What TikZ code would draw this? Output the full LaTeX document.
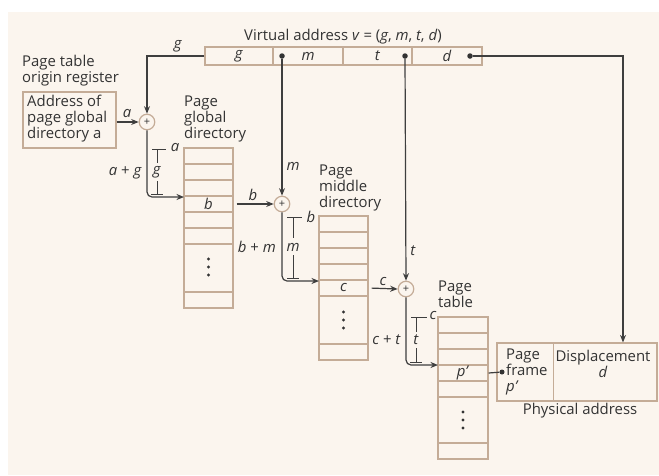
\documentclass[tikz,border=0pt]{standalone}
\usepackage{fontspec}
\setmainfont{Open Sans}
\usetikzlibrary{arrows.meta}
\definecolor{bgc}{HTML}{FBF5EE}
\definecolor{tanc}{HTML}{C4AC97}
\definecolor{inkc}{HTML}{333333}
\definecolor{wirec}{HTML}{3E3E3E}
\tikzset{
  txt/.style={inner sep=0pt, text=inkc, font=\fontsize{14.9}{16}\selectfont},
  lbl/.style={txt, align=left, anchor=west},
  cellbox/.style={draw=tanc, line width=1.2pt, inner sep=0pt, text=inkc, font=\fontsize{14.9}{16}\selectfont},
  tline/.style={draw=tanc, line width=1.2pt},
  wire/.style={draw=wirec, line width=1.2pt},
  arr/.style={wire, -{Stealth[length=7.5pt,width=6pt]}},
  brk/.style={draw=wirec, line width=0.9pt},
  plusc/.style={circle, draw=tanc, line width=1.2pt, fill=bgc, minimum size=15.5pt, inner sep=0pt, text=inkc, font=\fontsize{11}{11}\selectfont},
  dotn/.style={circle, fill=inkc, minimum size=5.5pt, inner sep=0pt},
  vdot/.style={circle, fill=inkc, minimum size=3.4pt, inner sep=0pt},
}
\begin{document}
\begin{tikzpicture}[x=1pt,y=-1pt]
\useasboundingbox (0,0) rectangle (659,475);
\fill[bgc] (8,12) rectangle (659,475);

% ---- virtual address ----
\node[txt] (vtitle) at (343,37) {Virtual address \textit{v} = (\textit{g}, \textit{m}, \textit{t}, \textit{d})};
\node[cellbox, minimum width=68pt, minimum height=18pt] (vg) at (239,56) {\textit{g}};
\node[cellbox, minimum width=70pt, minimum height=18pt] (vm) at (308,56) {\textit{m}};
\node[cellbox, minimum width=69pt, minimum height=18pt] (vt) at (377.5,56) {\textit{t}};
\node[cellbox, minimum width=70pt, minimum height=18pt] (vd) at (447,56) {\textit{d}};
\node[dotn] (mdot) at (282,56) {};
\node[dotn] (tdot) at (405,56) {};
\node[dotn] (ddot) at (470,56) {};

% ---- page table origin register ----
\node[lbl] (regtitle) at (22,71) {Page table\\origin register};
\node[draw=tanc, line width=1.2pt, minimum width=93pt, minimum height=56pt, inner sep=0pt] (reg) at (69.5,120) {};
\node[lbl] (regtxt) at (27,119) {Address of\\page global\\directory a};

% ---- adders ----
\node[plusc] (p1) at (147,122) {+};
\node[plusc] (p2) at (282,204) {+};
\node[plusc] (p3) at (406,289) {+};

% ---- page global directory ----
\node[lbl] (pgdtitle) at (184,119) {Page\\global\\directory};
\node[draw=tanc, line width=1.2pt, minimum width=49pt, minimum height=160pt, inner sep=0pt] (pgd) at (208.5,228) {};
\foreach \yy in {164,180,196,212,228,244,292} \draw[tline] (184,\yy) -- (233,\yy);
\node[cellbox, draw=none, minimum width=49pt, minimum height=16pt] (pgdb) at (208.5,204) {\textit{b}};
\node[vdot] (pgdd1) at (208.5,259) {};
\node[vdot] (pgdd2) at (208.5,267) {};
\node[vdot] (pgdd3) at (208.5,275) {};

% ---- page middle directory ----
\node[lbl] (pmdtitle) at (319,188) {Page\\middle\\directory};
\node[draw=tanc, line width=1.2pt, minimum width=49pt, minimum height=144pt, inner sep=0pt] (pmd) at (343.5,288) {};
\foreach \yy in {232,248,264,280,296,344} \draw[tline] (319,\yy) -- (368,\yy);
\node[cellbox, draw=none, minimum width=49pt, minimum height=16pt] (pmdc) at (343.5,288) {\textit{c}};
\node[vdot] (pmdd1) at (343.5,312) {};
\node[vdot] (pmdd2) at (343.5,320) {};
\node[vdot] (pmdd3) at (343.5,328) {};

% ---- page table ----
\node[lbl] (pttitle) at (438,294) {Page\\table};
\node[draw=tanc, line width=1.2pt, minimum width=50pt, minimum height=142pt, inner sep=0pt] (pt) at (463,388) {};
\foreach \yy in {333,349,365,381,397,443} \draw[tline] (438,\yy) -- (488,\yy);
\node[cellbox, draw=none, minimum width=50pt, minimum height=16pt] (ptp) at (463,373) {\textit{p'}};
\node[vdot] (ptd1) at (463,412) {};
\node[vdot] (ptd2) at (463,420) {};
\node[vdot] (ptd3) at (463,428) {};

% ---- physical address ----
\node[draw=tanc, line width=1.2pt, minimum width=160pt, minimum height=58pt, inner sep=0pt] (pa) at (577,372) {};
\draw[tline, line width=1pt] (553,343) -- (553,401);
\node[lbl] (pftxt) at (506,372) {Page\\frame\\\textit{p'}};
\node[txt, align=center] (disp) at (603,363.5) {Displacement\\\textit{d}};
\node[txt] (patitle) at (580,411) {Physical address};
\node[circle, fill=inkc, minimum size=5pt, inner sep=0pt] (pfdot) at (502,372) {};

% ---- connectors ----
\draw[arr] (vg.west) -| (p1.north);
\node[txt] (lg) at (178,46) {\textit{g}};
\draw[arr] (reg.east |- p1.west) -- (p1.west);
\node[txt] (la) at (127,114) {\textit{a}};

\coordinate (pgdin) at (184,197);
\draw[arr, rounded corners=5pt] (p1.south) |- (pgdin);
\node[txt, anchor=mid east] (lag) at (142,173) {\textit{a} + \textit{g}};
\draw[brk] (152,149) -- (166,149);
\draw[brk] (157,149) -- (157,163);
\node[txt] (bg) at (157,172) {\textit{g}};
\draw[brk] (157,181) -- (157,194);
\draw[brk] (151,194) -- (163,194);
\node[txt] (ba) at (175,148) {\textit{a}};

\draw[arr, shorten <=3pt] (pgdb.east) -- (p2.west);
\node[txt] (lb) at (253,195) {\textit{b}};
\draw[arr] (mdot) -- (p2.north);
\node[txt] (lm) at (293,166) {\textit{m}};

\coordinate (pmdin) at (319,281);
\draw[arr, rounded corners=5pt] (p2.south) |- (pmdin);
\node[txt, anchor=mid east] (lbm) at (276,250) {\textit{b} + \textit{m}};
\draw[brk] (287,217) -- (302,217);
\draw[brk] (293,217) -- (293,238);
\node[txt] (bm) at (293,247) {\textit{m}};
\draw[brk] (293,255) -- (293,278);
\draw[brk] (287,278) -- (299,278);
\node[txt] (bb) at (311,217) {\textit{b}};

\draw[arr, shorten <=3pt] (pmdc.east) -- (p3.west);
\node[txt] (lc) at (383,282) {\textit{c}};
\draw[arr] (tdot) -- (p3.north);
\node[txt] (lt) at (413,251) {\textit{t}};

\coordinate (ptin) at (438,365);
\draw[arr, rounded corners=5pt] (p3.south) |- (ptin);
\node[txt, anchor=mid east] (lct) at (401,342) {\textit{c} + \textit{t}};
\draw[brk] (411,317) -- (427,317);
\draw[brk] (416,317) -- (416,332);
\node[txt] (bt) at (416,340) {\textit{t}};
\draw[brk] (416,348) -- (416,362);
\draw[brk] (410,362) -- (422,362);
\node[txt] (bc) at (433,316) {\textit{c}};

\draw[wire] (ptp.east) -- (pfdot);
\draw[arr] (ddot) -- (623,56) -- (pa.north -| 623,0);
\end{tikzpicture}
\end{document}
